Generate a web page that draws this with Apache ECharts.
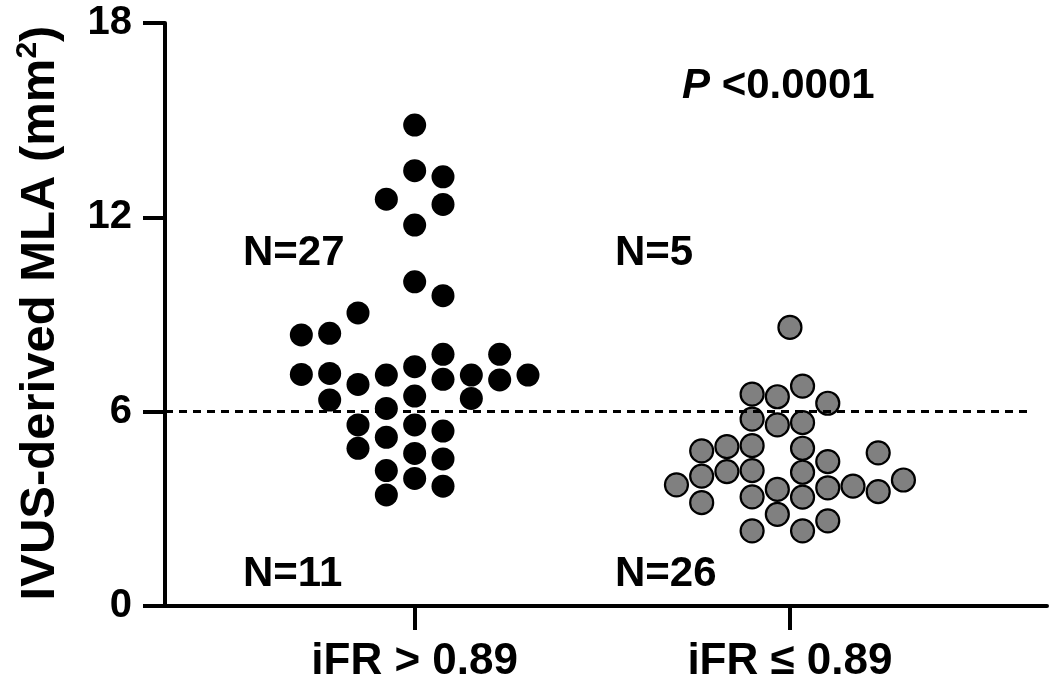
<!DOCTYPE html>
<html>
<head>
<meta charset="utf-8">
<script src="https://cdn.jsdelivr.net/npm/echarts@6/dist/echarts.min.js"></script>
<style>
html,body{margin:0;padding:0;background:#fff;}
#chart{width:1050px;height:686px;}
</style>
</head>
<body>
<div id="chart"></div>
<script>
// ---- data ----
const categories = ['iFR > 0.89', 'iFR \u2264 0.89'];
const yTicks = [0, 6, 12, 18];
const threshold = 6;
// group 1 (iFR > 0.89): MLA values and beeswarm column offsets
const highValues = [14.85, 13.44, 13.25, 12.56, 12.40, 11.76, 10.01, 9.58, 9.05,
  8.37, 8.42, 7.77, 7.77, 7.39, 7.15, 7.18, 7.13, 7.00, 7.13, 6.98, 7.13, 6.84,
  6.48, 6.36, 6.41, 6.10, 5.59, 5.59, 5.40, 5.21, 4.87, 4.71, 4.54, 4.18, 3.94, 3.70, 3.43];
const highCols = [0, 0, 1, -1, 1, 0, 0, 1, -2,
  -4, -3, 1, 3, 0, -4, -3, -1, 1, 2, 3, 4, -2,
  0, -3, 2, -1, -2, 0, 1, -1, -2, 0, 1, -1, 0, 1, -1];
// group 2 (iFR <= 0.89)
const lowValues = [8.60, 6.54, 6.46, 6.79, 6.26, 5.77, 5.59, 5.66, 4.79, 4.92, 4.95,
  4.87, 4.46, 4.73, 4.01, 4.15, 4.18, 4.13, 3.74, 3.60, 3.36, 3.37, 3.65, 3.70,
  3.53, 3.89, 3.19, 2.83, 2.63, 2.32, 2.32];
const lowCols = [0, -1.5, -0.5, 0.5, 1.5, -1.5, -0.5, 0.5, -3.5, -2.5, -1.5,
  0.5, 1.5, 3.5, -3.5, -2.5, -1.5, 0.5, -4.5, -0.5, 0.5, -1.5, 1.5, 2.5,
  3.5, 4.5, -3.5, -0.5, 1.5, -1.5, 0.5];
const countLabels = {highAbove: 'N=27', lowAbove: 'N=5', highBelow: 'N=11', lowBelow: 'N=26'};
const pText = '<0.0001';

// ---- chart ----
const FONT = '"Liberation Sans", Arial, Helvetica, sans-serif';
const highStep = 0.0755, lowStep = 0.0672;
const highData = highValues.map((v, i) => [1 + highCols[i] * highStep, v]);
const lowData = lowValues.map((v, i) => [2 + lowCols[i] * lowStep, v]);
const xMin = 0.3347, xMax = 2.685;

const chart = echarts.init(document.getElementById('chart'), null, {renderer: 'canvas'});
chart.setOption({
  backgroundColor: '#fff',
  animation: false,
  grid: {left: 165, right: 3, top: 23, bottom: 80, containLabel: false},
  xAxis: {
    type: 'value', min: xMin, max: xMax,
    splitLine: {show: false},
    axisLine: {show: true, onZero: false, lineStyle: {color: '#000', width: 4}},
    axisTick: {show: true, customValues: [1, 2], length: 24, lineStyle: {color: '#000', width: 4}},
    axisLabel: {show: true, customValues: [1, 2], margin: 34,
      formatter: v => categories[Math.round(v) - 1] || '',
      color: '#000', fontFamily: FONT, fontWeight: 'bold', fontSize: 44}
  },
  yAxis: {
    type: 'value', min: yTicks[0], max: yTicks[yTicks.length - 1], interval: yTicks[1] - yTicks[0],
    splitLine: {show: false},
    axisLine: {show: true, lineStyle: {color: '#000', width: 4}},
    axisTick: {show: true, length: 22, lineStyle: {color: '#000', width: 4}},
    axisLabel: {margin: 33, color: '#000', fontFamily: FONT, fontWeight: 'bold', fontSize: 40}
  },
  series: [
    {
      type: 'line', data: [], z: 1,
      markLine: {
        silent: true, symbol: 'none', label: {show: false},
        lineStyle: {color: '#000', width: 3, type: [8, 6]},
        data: [[{coord: [xMin, threshold]}, {coord: [2.647, threshold]}]]
      }
    },
    {
      type: 'scatter', data: highData, z: 3, symbol: 'circle', symbolSize: 23,
      itemStyle: {color: '#000', opacity: 1}
    },
    {
      type: 'scatter', data: lowData, z: 3, symbol: 'circle', symbolSize: 23,
      itemStyle: {color: '#808080', borderColor: '#000', borderWidth: 2.2, opacity: 1}
    }
  ],
  graphic: [
    {type: 'text', x: 40, y: 313, rotation: Math.PI / 2,
      style: {text: 'IVUS-derived MLA (mm{s|2})', fill: '#000', font: 'bold 49px ' + FONT,
        align: 'center', verticalAlign: 'middle',
        rich: {s: {fontSize: 30, fontWeight: 'bold', fontFamily: FONT, verticalAlign: 'top', padding: [0, 0, 24, 0]}}}},
    {type: 'text', left: 243, top: 232, style: {text: countLabels.highAbove, fill: '#000', font: 'bold 42px ' + FONT}},
    {type: 'text', left: 615, top: 232, style: {text: countLabels.lowAbove, fill: '#000', font: 'bold 42px ' + FONT}},
    {type: 'text', left: 243, top: 553, style: {text: countLabels.highBelow, fill: '#000', font: 'bold 42px ' + FONT}},
    {type: 'text', left: 615, top: 553, style: {text: countLabels.lowBelow, fill: '#000', font: 'bold 42px ' + FONT}},
    {type: 'text', left: 682, top: 65,
      style: {text: '{p|P} ' + pText, fill: '#000', font: 'bold 42px ' + FONT,
        rich: {p: {fontStyle: 'italic', fontWeight: 'bold', fontSize: 42, fontFamily: FONT}}}}
  ]
});
</script>
</body>
</html>
